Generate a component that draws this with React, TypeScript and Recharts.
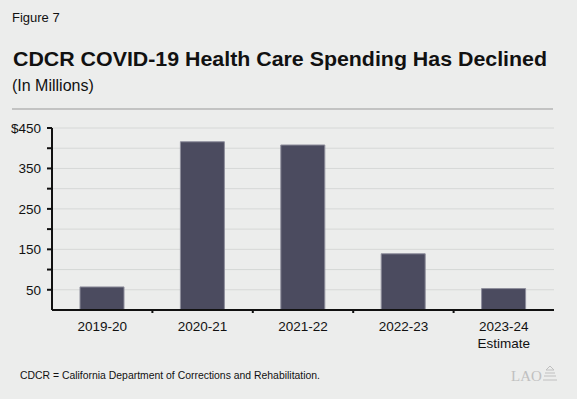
import React from 'react';
import { BarChart, Bar, XAxis, YAxis, CartesianGrid } from 'recharts';

const years = ['2019-20', '2020-21', '2021-22', '2022-23', '2023-24\nEstimate'];
const spending = [57, 416, 408, 139, 53];
const yTicks = [50, 100, 150, 200, 250, 300, 350, 400, 450];

const chartData = years.map((year, i) => ({ year, spending: spending[i] }));

const W = 577;
const H = 399;
const LEFT = 52;
const RIGHT = 23;
const BAND = (W - LEFT - RIGHT) / years.length;
const FONT = '"Liberation Sans", Arial, Helvetica, sans-serif';

function YearTick(props: any) {
  const { x, y, payload, index } = props;
  const lines = String(payload.value).split('\n');
  return (
    <g>
      {index > 0 && (
        <line x1={x - BAND / 2} x2={x - BAND / 2} y1={y} y2={y + 3} stroke="#111" strokeWidth={2} />
      )}
      <text x={x} y={y + 21} textAnchor="middle" fontSize={13.5} fill="#111" fontFamily={FONT}>
        {lines.map((l, i) => (
          <tspan key={i} x={x} dy={i === 0 ? 0 : 17}>{l}</tspan>
        ))}
      </text>
    </g>
  );
}

export default function App() {
  return (
    <div style={{ position: 'absolute', left: 0, top: 0, width: W, height: H, background: '#ecedec', overflow: 'hidden' }}>
      <div style={{ position: 'absolute', left: 0, top: 0 }}>
        <BarChart
          width={W}
          height={H}
          data={chartData}
          margin={{ top: 128, right: RIGHT, left: 0, bottom: 59 }}
          barSize={44}
        >
          <CartesianGrid vertical={false} stroke="#d6d8d7" strokeWidth={1} />
          <XAxis
            dataKey="year"
            height={30}
            interval={0}
            tickLine={false}
            tickSize={0}
            tickMargin={0}
            axisLine={{ stroke: '#111', strokeWidth: 2 }}
            tick={<YearTick />}
          />
          <YAxis
            width={LEFT}
            domain={[0, 450]}
            ticks={yTicks}
            interval={0}
            tickSize={5}
            tickMargin={6}
            tickLine={{ stroke: '#111', strokeWidth: 2 }}
            axisLine={{ stroke: '#111', strokeWidth: 2 }}
            tick={{ fill: '#111', fontSize: 13.5, fontFamily: FONT }}
            tickFormatter={(v: number) => (v % 100 === 50 ? (v === 450 ? '$450' : String(v)) : '')}
          />
          <Bar dataKey="spending" fill="#4b4b5f" stroke="#8e8e9c" strokeWidth={1} isAnimationActive={false} />
        </BarChart>
      </div>
      <svg width={W} height={H} style={{ position: 'absolute', left: 0, top: 0, pointerEvents: 'none' }}>
        <text x={12} y={22} fontSize={13} fill="#111" fontFamily={FONT}>Figure 7</text>
        <text x={13} y={66} fontSize={20.5} fontWeight="bold" fill="#111" fontFamily={FONT}
          textLength={534} lengthAdjust="spacingAndGlyphs">
          CDCR COVID-19 Health Care Spending Has Declined
        </text>
        <text x={12} y={91} fontSize={16} fill="#111" fontFamily={FONT}>(In Millions)</text>
        <line x1={12} x2={553} y1={109} y2={109} stroke="#999" strokeWidth={1} />
        <text x={20} y={379} fontSize={10.5} fill="#111" fontFamily={FONT}
          textLength={300} lengthAdjust="spacingAndGlyphs">
          CDCR = California Department of Corrections and Rehabilitation.
        </text>
        <text x={511} y={381} fontSize={15} fill="#c0c0c0" fontFamily='"Liberation Serif", "DejaVu Serif", serif'>LAO</text>
        <g fill="none" stroke="#c0c0c0" strokeWidth={1}>
          <path d="M546 370 L550 366 L554 370 Z" />
          <line x1={545} x2={555} y1={373} y2={373} />
          <line x1={544} x2={556} y1={376} y2={376} />
          <line x1={543} x2={557} y1={380} y2={380} />
        </g>
      </svg>
    </div>
  );
}
